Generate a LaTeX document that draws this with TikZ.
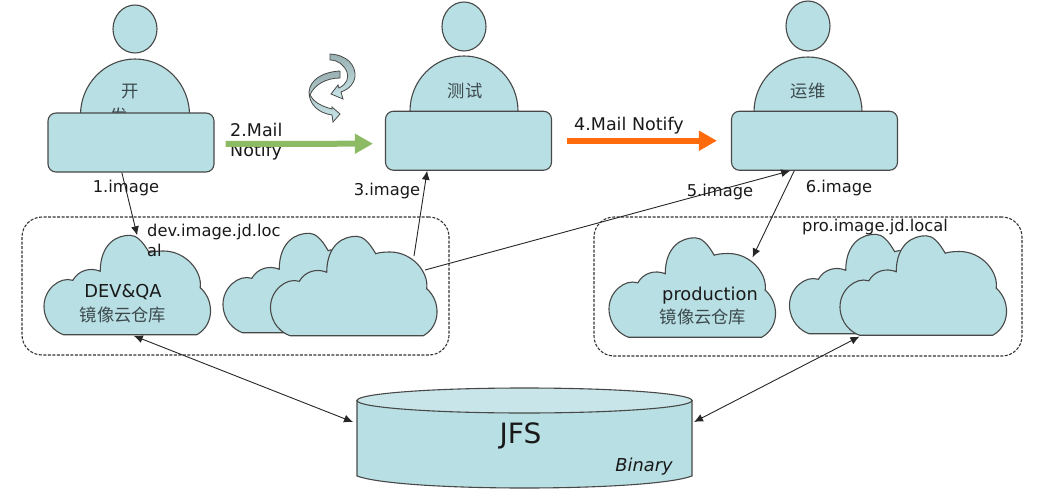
\documentclass[tikz,border=0pt]{standalone}
\usepackage{fontspec}
\setmainfont{DejaVu Sans}
\newfontfamily\cjk{Noto Sans CJK SC}
\usetikzlibrary{arrows.meta,shapes.geometric}

\definecolor{boxfill}{HTML}{B8DFE3}
\definecolor{capfill}{HTML}{C8E6E9}
\definecolor{boxline}{HTML}{484848}
\definecolor{mailgreen}{HTML}{8DBB65}
\definecolor{mailorange}{HTML}{FF6A0D}
\definecolor{cjkgrey}{HTML}{3C4A4E}

\tikzset{
  solid box/.style={draw=boxline,fill=boxfill,line width=1.1pt},
  desk/.style={solid box,rectangle,rounded corners=8pt,minimum width=166pt,minimum height=59pt,inner sep=0pt},
  txt/.style={font=\fontsize{16.3}{18}\selectfont,inner sep=0pt,text=black!90},
  mailtxt/.style={font=\fontsize{17.5}{19}\selectfont,inner sep=0pt,text=black!90},
  bigtxt/.style={font=\fontsize{17.8}{20}\selectfont,inner sep=0pt,text=black!90},
  cjktxt/.style={font=\fontsize{17.3}{19}\selectfont\cjk,inner sep=0pt,text=cjkgrey},
  thin arrow/.style={-{Latex[length=9pt,width=8pt]},line width=.9pt,black!85},
  both arrow/.style={{Latex[length=9pt,width=8pt]}-{Latex[length=9pt,width=8pt]},line width=.9pt,black!85},
  mail arrow/.style={-{Triangle[length=18pt,width=19pt]},line width=6pt},
  repo/.style={draw=black!80,dash pattern=on 3pt off 1.5pt,line width=1.1pt,rounded corners=20pt,inner sep=0pt},
  cloudpic/.pic={
    \draw[solid box] (-64,49.7) -- (69.3,49.7)
      .. controls (87,40) and (87,15) .. (72.7,2.7)
      .. controls (75,-14) and (58,-34) .. (36,-34)
      .. controls (30,-34) and (25,-33.5) .. (21.7,-32.3)
      .. controls (15,-44) and (9,-49.7) .. (2.7,-49.7)
      .. controls (-10,-50) and (-27,-42) .. (-27.3,-13.7)
      .. controls (-37.3,-18) and (-49,-14.7) .. (-54.7,-4.7)
      .. controls (-68,-9) and (-84,5) .. (-83.5,22)
      .. controls (-83,38) and (-72,47) .. (-64,49.7) -- cycle;
    \node (-box) [minimum width=167pt,minimum height=99pt,inner sep=0pt] at (0,0) {};
    \coordinate (-shoulder) at (60,-30);
    \coordinate (-side) at (71,-16);
  }
}

\begin{document}
\begin{tikzpicture}[x=1pt,y=-1pt]

\useasboundingbox (0,0) rectangle (1049,503);

%first person
\pgfmathsetmacro\x{135}
\node[solid box,ellipse,minimum width=109pt,minimum height=112pt,inner sep=0pt] (devbody) at (\x,115) {};
\node[cjktxt] (devname1) at (\x-5,92) {开};
\node[cjktxt] (devname2) at (\x-16,116) {发};
\node[desk] (devdesk) at (131,142.5) {};
\node[solid box,ellipse,minimum width=44pt,minimum height=48pt,inner sep=0pt] (devhead) at (\x,29) {};

%second person
\pgfmathsetmacro\x{464}
\node[solid box,ellipse,minimum width=108pt,minimum height=110pt,inner sep=0pt] (testbody) at (\x,111) {};
\node[cjktxt] (testname) at (\x+1,91) {测试};
\node[desk] (testdesk) at (468.5,140.75) {};
\node[solid box,ellipse,minimum width=44pt,minimum height=49pt,inner sep=0pt] (testhead) at (\x,26.5) {};

%third person
\pgfmathsetmacro\x{808}
\node[solid box,ellipse,minimum width=108pt,minimum height=110pt,inner sep=0pt] (opsbody) at (\x,112) {};
\node[cjktxt] (opsname) at (\x,91) {运维};
\node[desk] (opsdesk) at (814.5,140.75) {};
\node[solid box,ellipse,minimum width=44pt,minimum height=50pt,inner sep=0pt] (opshead) at (\x,26) {};

%rotating arrows
\draw[draw=boxline,line width=.8pt,top color=boxfill!70!black!80,bottom color=capfill]
  (330,54) .. controls (347,55) and (356,65) .. (355,77)
  .. controls (354,84) and (349,89) .. (341,92) -- (343,99) -- (331,94) -- (338,85) -- (339,88)
  .. controls (347,84) and (349,78) .. (347,72)
  .. controls (344,65) and (338,60) .. (330,60) -- cycle;
\draw[draw=boxline,line width=.8pt,top color=boxfill!70!black!80,bottom color=capfill]
  (340,71) .. controls (322,72) and (310,80) .. (309,92)
  .. controls (309,104) and (318,113) .. (332,115) -- (333,122) -- (340,114) -- (332,107) -- (332,109)
  .. controls (320,106) and (313,101) .. (310,95)
  .. controls (314,85) and (326,78) .. (340,78) -- cycle;

%mail labels under the arrows
\node[mailtxt,anchor=west] (mail2a) at (230,130) {2.Mail};
\node[mailtxt,anchor=west] (mail2b) at (230,152) {Notify};
\node[mailtxt,anchor=west] (mail4) at (574,125.5) {4.Mail Notify};

\draw[mail arrow,mailgreen,shorten <=11pt,shorten >=12pt] (devdesk.-1) -- (testdesk.182.2);
\draw[mail arrow,mailorange,shorten <=15pt,shorten >=14pt] (testdesk.east) -- (opsdesk.west);

%repositories
\node[repo,minimum width=427pt,minimum height=138pt] (devrepo) at (235.5,286) {};
\node[repo,minimum width=428pt,minimum height=139pt] (prorepo) at (808,286.5) {};

\pic (devcloud) at (127.5,285) {cloudpic};
\pic (testback) at (306.5,283) {cloudpic};
\pic (testcloud) at (354,286) {cloudpic};
\pic (prodcloud) at (692.5,287.5) {cloudpic};
\pic (proback) at (873,284) {cloudpic};
\pic (procloud) at (923.5,285.5) {cloudpic};

\node[bigtxt] (devqa) at (123,292.5) {DEV\&QA};
\node[cjktxt] (devstore) at (123,315) {镜像云仓库};
\node[bigtxt] (production) at (710,295.5) {production};
\node[cjktxt] (prodstore) at (703,317) {镜像云仓库};

%storage
\draw[solid box] (357,400.5) -- (357,476) .. controls (400,492) and (649,492) .. (692,476) -- (692,400.5) -- cycle;
\node[solid box,fill=capfill,ellipse,minimum width=335pt,minimum height=25pt,inner sep=0pt] (jfs) at (524.5,400.5) {};
\node[font=\fontsize{28}{30}\selectfont,inner sep=0pt,text=black!90] (jfstext) at (520.5,436) {JFS};
\node[txt,font=\fontsize{17.8}{20}\selectfont\itshape] (binary) at (644,466.5) {Binary};
\coordinate (jfsleft) at (353,422);
\coordinate (jfsright) at (694,422);

%image arrows
\draw[thin arrow] (devdesk.253) -- (devcloud-box.79);
\draw[thin arrow] (testcloud-shoulder) -- (testdesk.216);
\draw[thin arrow] (testcloud-side) -- (opsdesk.231);
\draw[thin arrow] (opsdesk.236) -- (prodcloud-shoulder);
\draw[both arrow,shorten <=3pt] (devcloud-box.-86) -- (jfsleft);
\draw[both arrow,shorten <=3pt] (procloud-box.-141) -- (jfsright);

\node[txt] (image1) at (126,188) {1.image};
\node[txt] (image3) at (387,191) {3.image};
\node[txt] (image5) at (720,192) {5.image};
\node[txt] (image6) at (839,188) {6.image};
\node[txt,anchor=west] (devhost1) at (147,232) {dev.image.jd.loc};
\node[txt,anchor=west] (devhost2) at (147,250) {al};
\node[txt] (prohost) at (875,227) {pro.image.jd.local};

\end{tikzpicture}
\end{document}
